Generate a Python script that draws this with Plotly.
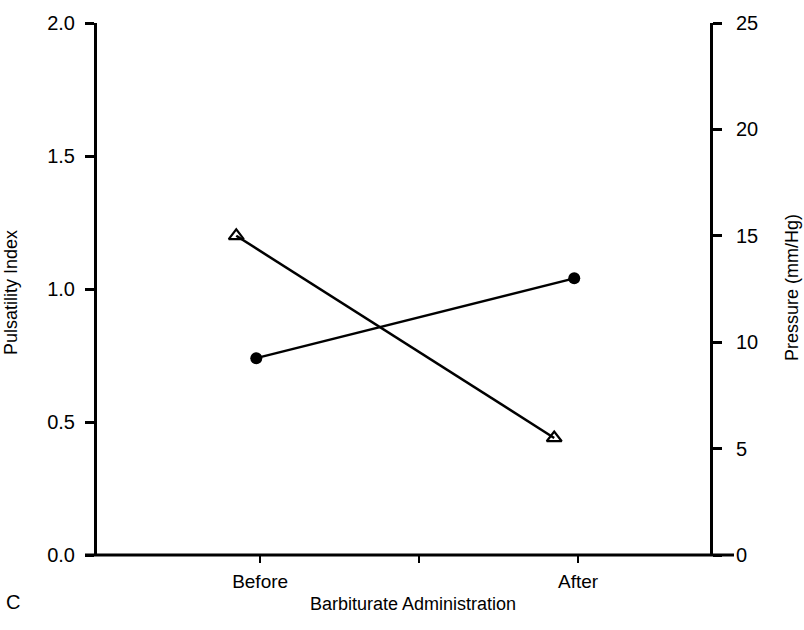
import plotly.graph_objects as go

# Data
categories = ["Before", "After"]
cat_pos = [0, 1]
pulsatility_index = [0.74, 1.04]   # filled circles, left axis
pressure_mmhg = [15.0, 5.5]         # open triangles, right axis
left_ticks = [0.0, 0.5, 1.0, 1.5, 2.0]
left_ticklabels = ["0.0", "0.5", "1.0", "1.5", "2.0"]
right_ticks = [0, 5, 10, 15, 20, 25]

# small horizontal offsets as seen in the figure
circ_off = -0.012
tri_off = -0.075

W, H = 804, 630
L, R, T, B = 97, 94, 17, 75
pw = W - L - R
ph = H - T - B

font_family = "Liberation Sans, Arial, Helvetica, sans-serif"

fig = go.Figure()
fig.add_trace(go.Scatter(
    x=[p + circ_off for p in cat_pos], y=pulsatility_index,
    mode="lines+markers",
    line=dict(color="black", width=2.5),
    marker=dict(symbol="circle", size=12, color="black"),
    yaxis="y", showlegend=False, cliponaxis=False,
))
fig.add_trace(go.Scatter(
    x=[p + tri_off for p in cat_pos], y=pressure_mmhg,
    mode="lines+markers",
    line=dict(color="black", width=2.5),
    marker=dict(symbol="triangle-up-open", size=13, color="black",
                line=dict(color="black", width=2.2)),
    yaxis="y2", showlegend=False, cliponaxis=False,
))

fig.update_layout(
    width=W, height=H,
    margin=dict(l=L, r=R, t=T, b=B, pad=0),
    paper_bgcolor="white", plot_bgcolor="white",
    font=dict(family=font_family, size=18, color="black"),
    xaxis=dict(
        range=[-0.513, 1.415],
        tickmode="array", tickvals=[0, 0.5, 1], ticktext=["Before", "", "After"],
        ticks="outside", ticklen=7, tickwidth=2, tickcolor="black",
        showline=False, showgrid=False, zeroline=False,
        ticklabelstandoff=2,
        tickfont=dict(size=19),
    ),
    yaxis=dict(
        range=[0, 2.0],
        tickmode="array", tickvals=left_ticks, ticktext=left_ticklabels,
        ticks="outside", ticklen=9, tickwidth=2.5, tickcolor="black",
        showline=True, linewidth=3, linecolor="black",
        showgrid=False, zeroline=False, ticklabelstandoff=6,
        tickfont=dict(size=20),
    ),
    yaxis2=dict(
        range=[0, 25], overlaying="y", side="right",
        tickmode="array", tickvals=right_ticks,
        ticks="outside", ticklen=9, tickwidth=2.5, tickcolor="black",
        showline=True, linewidth=3, linecolor="black",
        showgrid=False, zeroline=False, ticklabelstandoff=10,
        tickfont=dict(size=20),
    ),
    shapes=[
        dict(type="line", xref="paper", yref="paper",
             x0=-12 / pw, x1=1 + 24 / pw, y0=0, y1=0,
             line=dict(color="black", width=3)),
    ],
    annotations=[
        dict(text="Pulsatility Index", xref="paper", yref="paper",
             x=(11 - L) / pw, y=(H - B - 290) / ph, textangle=-90,
             showarrow=False, xanchor="center", yanchor="middle",
             font=dict(size=18)),
        dict(text="Pressure (mm/Hg)", xref="paper", yref="paper",
             x=(792 - L) / pw, y=(H - B - 285) / ph, textangle=-90,
             showarrow=False, xanchor="center", yanchor="middle",
             font=dict(size=18)),
        dict(text="Barbiturate Administration", xref="paper", yref="paper",
             x=(413 - L) / pw, y=(H - B - 605) / ph,
             showarrow=False, xanchor="center", yanchor="middle",
             font=dict(size=18)),
        dict(text="C", xref="paper", yref="paper",
             x=(13 - L) / pw, y=(H - B - 603) / ph,
             showarrow=False, xanchor="center", yanchor="middle",
             font=dict(size=20)),
    ],
)

fig.write_html("out.html")
